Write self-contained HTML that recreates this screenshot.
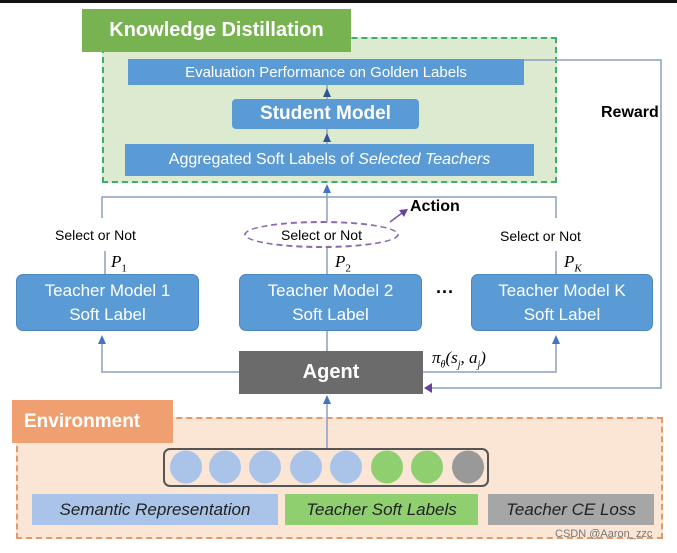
<!DOCTYPE html>
<html><head><meta charset="utf-8"><style>
*{margin:0;padding:0;box-sizing:border-box}
body{width:677px;height:553px;background:#fff;position:relative;overflow:hidden;font-family:"Liberation Sans",sans-serif}
.a{position:absolute}
.blue{background:#5b9bd5;color:#fff;display:flex;align-items:center;justify-content:center;text-align:center}
.t{border-radius:7px;font-size:17px;line-height:24px;flex-direction:column;border:1px solid #4a86c0}
</style></head><body>
<div class="a" style="left:0;top:0;width:677px;height:3px;background:#111"></div>
<div class="a" style="left:102px;top:37px;width:455px;height:146px;background:#dcebd0;border:2px dashed #3fae6a"></div>
<div class="a" style="left:82px;top:9px;width:269px;height:43px;background:#77b351;color:#fff;font-weight:bold;font-size:20px;display:flex;align-items:center;justify-content:center">Knowledge Distillation</div>
<div class="a blue" style="left:128px;top:59px;width:396px;height:26px;font-size:15px">Evaluation Performance on Golden Labels</div>
<div class="a blue" style="left:232px;top:99px;width:187px;height:30px;font-size:19px;font-weight:bold;border-radius:4px">Student Model</div>
<div class="a blue" style="left:125px;top:144px;width:409px;height:32px;font-size:16px">Aggregated Soft Labels of&nbsp;<i>Selected Teachers</i></div>
<div class="a" style="left:601px;top:104px;font-weight:bold;font-size:16px">Reward</div>
<div class="a" style="left:410px;top:198px;font-weight:bold;font-size:16px">Action</div>
<div class="a" style="left:244px;top:221px;width:155px;height:27px;border:2px dashed #8a6bb0;border-radius:50%;font-size:14px;display:flex;align-items:center;justify-content:center">Select or Not</div>
<div class="a" style="left:55px;top:227px;font-size:14px">Select or Not</div>
<div class="a" style="left:500px;top:228px;font-size:14px">Select or Not</div>
<div class="a" style="left:111px;top:252px;font-family:'Liberation Serif',serif;font-style:italic;font-size:17px">P<sub style="font-size:11px;font-style:normal">1</sub></div>
<div class="a" style="left:335px;top:252px;font-family:'Liberation Serif',serif;font-style:italic;font-size:17px">P<sub style="font-size:11px;font-style:normal">2</sub></div>
<div class="a" style="left:564px;top:252px;font-family:'Liberation Serif',serif;font-style:italic;font-size:17px">P<sub style="font-size:11px">K</sub></div>
<div class="a blue t" style="left:16px;top:274px;width:183px;height:57px">Teacher Model 1<br>Soft Label</div>
<div class="a blue t" style="left:239px;top:274px;width:183px;height:57px">Teacher Model 2<br>Soft Label</div>
<div class="a blue t" style="left:471px;top:274px;width:182px;height:57px">Teacher Model K<br>Soft Label</div>
<div class="a" style="left:436px;top:282px;font-size:18px;font-weight:bold">···</div>
<div class="a" style="left:239px;top:351px;width:184px;height:43px;background:#6b6b6b;color:#fff;font-weight:bold;font-size:20px;display:flex;align-items:center;justify-content:center">Agent</div>
<div class="a" style="left:432px;top:348px;font-family:'Liberation Serif',serif;font-style:italic;font-size:17px">π<sub style="font-size:10px">θ</sub>(s<sub style="font-size:10px">j</sub>, a<sub style="font-size:10px">j</sub>)</div>
<div class="a" style="left:16px;top:417px;width:647px;height:122px;background:#fbe6d6;border:2px dashed #e39a6a"></div>
<div class="a" style="left:12px;top:400px;width:161px;height:43px;background:#f0a070;color:#fff;font-weight:bold;font-size:19px;display:flex;align-items:center;padding-left:12px">Environment</div>
<div class="a" style="left:163px;top:448px;width:326px;height:39px;border:2px solid #555;border-radius:7px"></div>
<div class="a" style="left:32px;top:494px;width:246px;height:31px;background:#a9c4e8;font-style:italic;font-size:17px;display:flex;align-items:center;justify-content:center;color:#222">Semantic Representation</div>
<div class="a" style="left:285px;top:494px;width:193px;height:31px;background:#8fcf6f;font-style:italic;font-size:17px;display:flex;align-items:center;justify-content:center;color:#222">Teacher Soft Labels</div>
<div class="a" style="left:488px;top:494px;width:166px;height:31px;background:#a6a6a6;font-style:italic;font-size:17px;display:flex;align-items:center;justify-content:center;color:#222">Teacher CE Loss</div>
<div class="a" style="left:555px;top:528px;font-size:11px;color:#777">CSDN @Aaron_zzc</div>
<svg class="a" style="left:0;top:0" width="677" height="553">
<defs>
<marker id="b" markerWidth="8" markerHeight="8" refX="4" refY="7" orient="auto-start-reverse" markerUnits="userSpaceOnUse"><path d="M0,8 L4,0 L8,8z" fill="#4472c4"/></marker>
</defs>
<g stroke="#8a9fc0" stroke-width="1.5" fill="none">
<line x1="327" y1="85" x2="327" y2="99"/><path d="M323,97 L327,88 L331,97z" fill="#2f5597" stroke="none"/>
<line x1="327" y1="129" x2="327" y2="144"/><path d="M323,142 L327,133 L331,142z" fill="#2f5597" stroke="none"/>
<path d="M102,218 V197 H556 V218"/>
<line x1="327" y1="197" x2="327" y2="186"/><path d="M323,193 L327,184 L331,193z" fill="#4472c4" stroke="none"/>
<line x1="327" y1="197" x2="327" y2="221"/>
<line x1="105" y1="251" x2="105" y2="274"/>
<line x1="327" y1="248" x2="327" y2="274"/>
<line x1="556" y1="251" x2="556" y2="274"/>
<line x1="327" y1="331" x2="327" y2="351"/>
<path d="M239,372 H102 V340"/><path d="M98,344 L102,335 L106,344z" fill="#4472c4" stroke="none"/>
<path d="M423,372 H556 V340"/><path d="M552,344 L556,335 L560,344z" fill="#4472c4" stroke="none"/>
<path d="M524,60 H661 V388 H430"/><path d="M432,383 L424,388 L432,393z" fill="#6a3fa0" stroke="none"/>
<line x1="327" y1="448" x2="327" y2="400"/><path d="M323,404 L327,395 L331,404z" fill="#4472c4" stroke="none"/>
<line x1="390" y1="222" x2="402" y2="213" stroke="#7b55a8"/><path d="M399,210 L408,209 L404,217z" fill="#6a3fa0" stroke="none"/>
</g>
<g>
<ellipse cx="186" cy="467" rx="16" ry="16.5" fill="#a9c4e8"/>
<ellipse cx="225" cy="467" rx="16" ry="16.5" fill="#a9c4e8"/>
<ellipse cx="265" cy="467" rx="16" ry="16.5" fill="#a9c4e8"/>
<ellipse cx="306" cy="467" rx="16" ry="16.5" fill="#a9c4e8"/>
<ellipse cx="346" cy="467" rx="16" ry="16.5" fill="#a9c4e8"/>
<ellipse cx="387" cy="467" rx="16" ry="16.5" fill="#8fcf6f"/>
<ellipse cx="427" cy="467" rx="16" ry="16.5" fill="#8fcf6f"/>
<ellipse cx="468" cy="467" rx="16" ry="16.5" fill="#999"/>
</g>
</svg>
</body></html>
